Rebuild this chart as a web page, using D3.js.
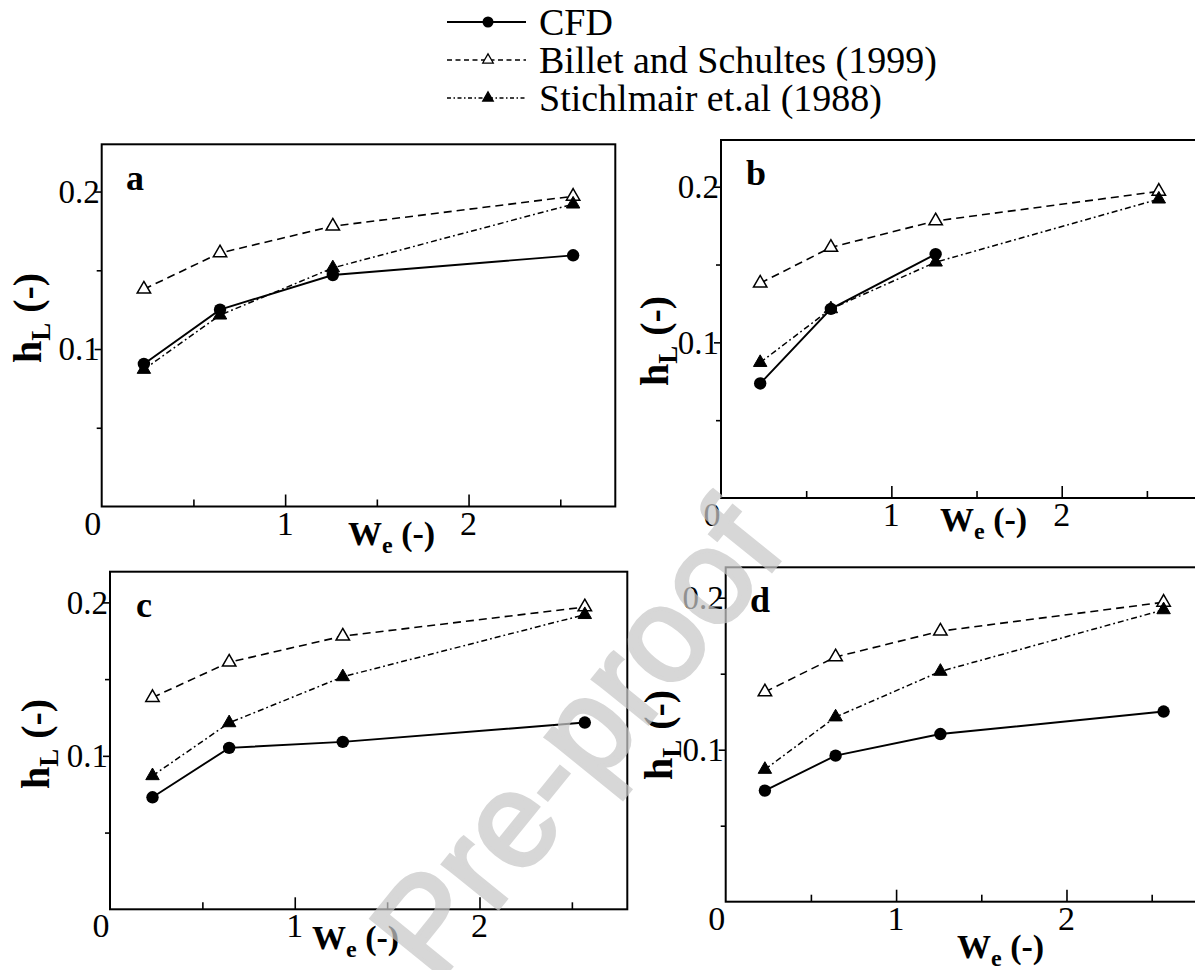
<!DOCTYPE html>
<html>
<head>
<meta charset="utf-8">
<script src="https://cdn.jsdelivr.net/npm/d3@7"></script>
<style>
  html, body { margin: 0; padding: 0; background: #fff; }
  svg { display: block; }
  svg text { font-family: Liberation Serif, Tinos, DejaVu Serif, serif; }
</style>
</head>
<body>
<svg id="chart" width="1195" height="970"></svg>
<script>
// ---------------- data ----------------
const weValues = [0.23, 0.645, 1.26, 2.57];
const billetSchultes = [0.138, 0.161, 0.178, 0.197];
const stichlmair = [0.087, 0.1215, 0.1515, 0.192];
const cfdA = [0.0905, 0.125, 0.147, 0.1595];
const cfdB = [0.0736, 0.1215, 0.1567];
const cfdC = [0.073, 0.1052, 0.1091, 0.1217];
const cfdD = [0.0731, 0.0961, 0.1103, 0.1251];
const panelLetters = ["a", "b", "c", "d"];
const xMajorTicks = [0, 1, 2];
const xMinorTicks = [0.5, 1.5, 2.5];
const yMajorTicks = [0.1, 0.2];
const yMinorTicks = [0.05, 0.15];
const xTickLabels = ["0", "1", "2"];
const yTickLabels = ["0.1", "0.2"];
const legendLabels = ["CFD", "Billet and Schultes (1999)", "Stichlmair et.al (1988)"];
const watermarkText = "Pre-proof";

// ---------------- layout ----------------
const panels = [
  { cfd: cfdA, yMax: 0.23, left: 101.7, right: 615.3, top: 144.3, bottom: 506.5,
    xt: [348, 545], yt: [27, 318], lt: [126, 190] },
  { cfd: cfdB, yMax: 0.23, left: 721, right: 1198, top: 140, bottom: 498,
    xt: [940, 531], yt: [654, 341], lt: [746, 185] },
  { cfd: cfdC, yMax: 0.22, left: 110, right: 627.3, top: 571.7, bottom: 909.3,
    xt: [312, 949], yt: [35, 744], lt: [136, 617] },
  { cfd: cfdD, yMax: 0.22, left: 725.7, right: 1202.8, top: 567.3, bottom: 901.7,
    xt: [957, 958], yt: [658, 735], lt: [750, 612] }
];

const svg = d3.select("#chart");
const triSize = 78, circR = 6.2;
const styles = {
  billet: { dash: "8,5", width: 1.6 },
  stich: { dash: "6,3,1.8,3", width: 1.5 },
  cfd: { dash: null, width: 1.9 }
};

function txt(sel) {
  return sel.append("text").attr("fill", "#000");
}

panels.forEach((p, i) => {
  const x = d3.scaleLinear().domain([0, 2.8]).range([p.left, p.right]);
  const y = d3.scaleLinear().domain([0, p.yMax]).range([p.bottom, p.top]);
  const g = svg.append("g");

  g.append("rect")
    .attr("x", p.left).attr("y", p.top)
    .attr("width", p.right - p.left).attr("height", p.bottom - p.top)
    .attr("fill", "none").attr("stroke", "#000").attr("stroke-width", 2);

  const xMaj = g.append("g").attr("transform", `translate(0,${p.bottom})`)
    .call(d3.axisBottom(x).tickValues(xMajorTicks.filter(v => v > 0)).tickSizeInner(-12).tickSizeOuter(0).tickFormat(""));
  const xMin = g.append("g").attr("transform", `translate(0,${p.bottom})`)
    .call(d3.axisBottom(x).tickValues(xMinorTicks).tickSizeInner(-7).tickSizeOuter(0).tickFormat(""));
  const yMaj = g.append("g").attr("transform", `translate(${p.left},0)`)
    .call(d3.axisLeft(y).tickValues(yMajorTicks).tickSizeInner(7).tickSizeOuter(0).tickFormat(""));
  const yMin = g.append("g").attr("transform", `translate(${p.left},0)`)
    .call(d3.axisLeft(y).tickValues(yMinorTicks).tickSizeInner(5).tickSizeOuter(0).tickFormat(""));
  [xMaj, xMin, yMaj, yMin].forEach(a => {
    a.select(".domain").remove();
    a.selectAll("line").attr("stroke", "#000").attr("stroke-width", 1.6);
  });

  xMajorTicks.forEach((v, k) => {
    txt(g).attr("x", x(v) + (v === 0 ? -9 : 0)).attr("y", p.bottom + 28)
      .attr("text-anchor", "middle").attr("font-size", 34)
      .text(xTickLabels[k]);
  });
  yMajorTicks.forEach((v, k) => {
    txt(g).attr("x", p.left - 2).attr("y", y(v)).attr("dy", "0.34em")
      .attr("text-anchor", "end").attr("font-size", 33)
      .text(yTickLabels[k]);
  });

  const xt = txt(g).attr("x", p.xt[0]).attr("y", p.xt[1])
    .attr("font-size", 34).attr("font-weight", "bold");
  xt.append("tspan").text("W");
  xt.append("tspan").attr("dy", 8).attr("font-size", 24).text("e");
  xt.append("tspan").attr("dy", -8).text(" (-)");

  const yt = txt(g)
    .attr("transform", `translate(${p.yt[0] + 14},${p.yt[1]}) rotate(-90)`)
    .attr("text-anchor", "middle")
    .attr("font-size", 40).attr("font-weight", "bold");
  yt.append("tspan").text("h");
  yt.append("tspan").attr("dy", 9).attr("font-size", 27).text("L");
  yt.append("tspan").attr("dy", -9).text(" (-)");

  txt(g).attr("x", p.lt[0]).attr("y", p.lt[1])
    .attr("font-size", 36).attr("font-weight", "bold")
    .text(panelLetters[i]);

  const line = d3.line().x(d => x(d[0])).y(d => y(d[1]));
  const ptsB = weValues.map((w, k) => [w, billetSchultes[k]]);
  const ptsS = weValues.map((w, k) => [w, stichlmair[k]]);
  const ptsC = p.cfd.map((v, k) => [weValues[k], v]);

  [[ptsB, styles.billet], [ptsS, styles.stich], [ptsC, styles.cfd]].forEach(([pts, st]) => {
    g.append("path").attr("d", line(pts)).attr("fill", "none")
      .attr("stroke", "#000").attr("stroke-width", st.width)
      .attr("stroke-dasharray", st.dash);
  });

  const tri = d3.symbol().type(d3.symbolTriangle).size(triSize);
  g.selectAll(".mb").data(ptsB).join("path")
    .attr("d", tri).attr("transform", d => `translate(${x(d[0])},${y(d[1])})`)
    .attr("fill", "#fff").attr("stroke", "#000").attr("stroke-width", 1.5);
  g.selectAll(".ms").data(ptsS).join("path")
    .attr("d", tri).attr("transform", d => `translate(${x(d[0])},${y(d[1])})`)
    .attr("fill", "#000").attr("stroke", "#000").attr("stroke-width", 1);
  g.selectAll(".mc").data(ptsC).join("circle")
    .attr("cx", d => x(d[0])).attr("cy", d => y(d[1])).attr("r", circR)
    .attr("fill", "#000");
});

// ---------------- legend ----------------
const leg = svg.append("g");
legendLabels.forEach((lab, k) => {
  const by = 35 + k * 38;
  const cy = by - 13;
  leg.append("line").attr("x1", 447).attr("x2", 526).attr("y1", cy).attr("y2", cy)
    .attr("stroke", "#000").attr("stroke-width", k === 0 ? 1.9 : 1.4)
    .attr("stroke-dasharray", k === 1 ? "5,3.5" : (k === 2 ? "4,2.5,1.5,2.5" : null));
  if (k === 0) {
    leg.append("circle").attr("cx", 488).attr("cy", cy).attr("r", 5.5).attr("fill", "#000");
  } else {
    leg.append("path").attr("d", d3.symbol().type(d3.symbolTriangle).size(48)())
      .attr("transform", `translate(488,${cy})`)
      .attr("fill", k === 1 ? "#fff" : "#000").attr("stroke", "#000").attr("stroke-width", 1.3);
  }
  txt(leg).attr("x", 539).attr("y", by).attr("font-size", 38).text(lab);
});

// ---------------- watermark ----------------
svg.append("text")
  .attr("transform", "translate(612,768) rotate(-51)")
  .attr("text-anchor", "middle")
  .style("font-family", "Liberation Sans, Arial, sans-serif")
  .attr("font-size", 134)
  .style("fill", "#c8c8c8").style("stroke", "#c8c8c8").style("stroke-width", 4)
  .style("opacity", 0.72)
  .text(watermarkText);
</script>
</body>
</html>
